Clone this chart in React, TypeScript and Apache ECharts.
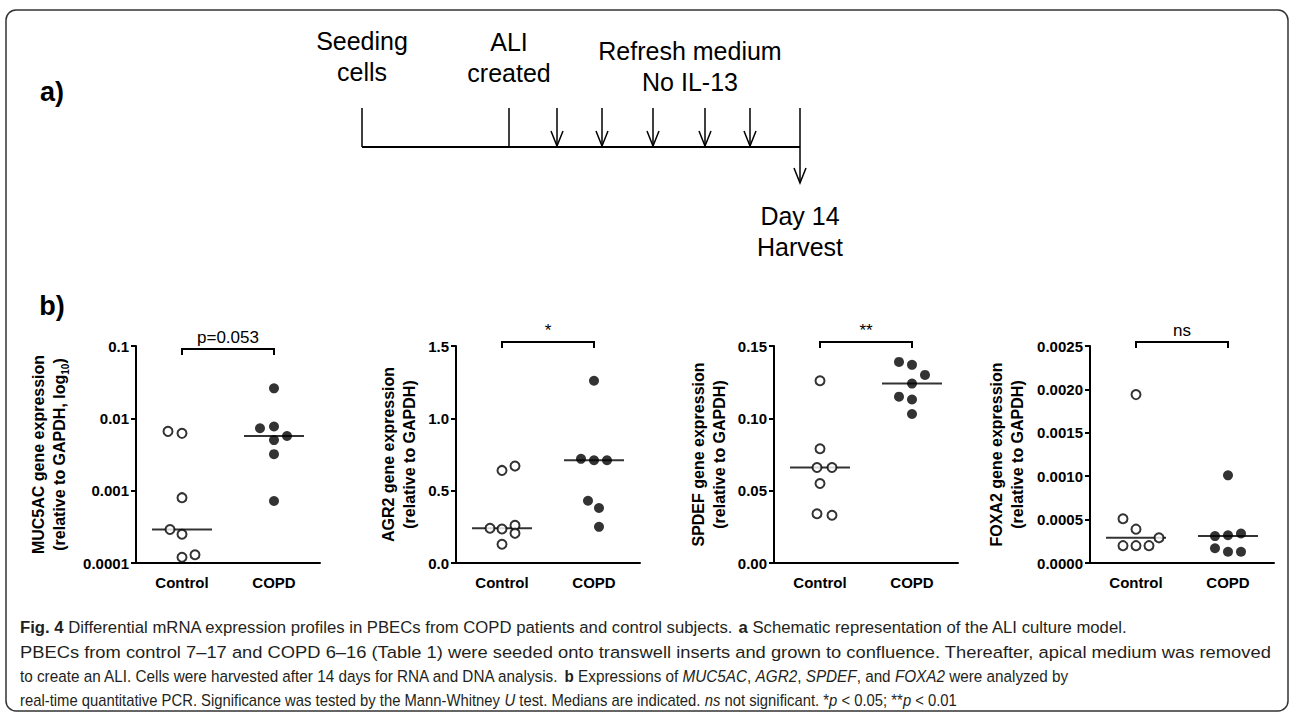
import React, { useEffect, useRef } from 'react';
import * as echarts from 'echarts';

const FONT = '"Liberation Sans", Arial, Helvetica, sans-serif';

// ---- data ----
const groups = ['Control', 'COPD'];

const muc5acControl = [0.0066, 0.0062, 0.0008, 0.00029, 0.00025, 0.00013, 0.00012];
const muc5acCopd = [0.026, 0.0077, 0.0073, 0.0057, 0.005, 0.0032, 0.00072];
const agr2Control = [0.67, 0.64, 0.26, 0.24, 0.235, 0.205, 0.13];
const agr2Copd = [1.26, 0.72, 0.71, 0.71, 0.43, 0.38, 0.25];
const spdefControl = [0.126, 0.079, 0.066, 0.066, 0.055, 0.034, 0.033];
const spdefCopd = [0.139, 0.137, 0.13, 0.124, 0.115, 0.113, 0.103];
const foxa2Control = [0.00194, 0.00051, 0.00039, 0.00029, 0.0002, 0.0002, 0.0002];
const foxa2Copd = [0.00101, 0.00034, 0.00032, 0.00031, 0.00017, 0.00013, 0.00013];

// horizontal scatter spread (px) of each dot around its group centre
const muc5acControlSpread = [-14, 0, 0, -12, 0, 13, 0];
const muc5acCopdSpread = [0, 0, -14, 13, 0, 0, 0];
const agr2ControlSpread = [13, 0, 13, -12, 0, 13, 0];
const agr2CopdSpread = [0, -13, 0, 13, -6, 5, 5];
const spdefControlSpread = [0, 0, -3, 12, 0, -3, 12];
const spdefCopdSpread = [-13, 0, 13, 0, -13, 0, 0];
const foxa2ControlSpread = [0, -13, 0, 23, -13, 0, 13];
const foxa2CopdSpread = [0, 13, 0, -13, -13, 0, 13];

const significanceLabels = ['p=0.053', '*', '**', 'ns'];
const bracketLevels = [0.091, 1.528, 0.1528, 0.002546];

const yNames = [
  'MUC5AC gene expression\n(relative to GAPDH, log{sub|10})',
  'AGR2 gene expression\n(relative to GAPDH)',
  'SPDEF gene expression\n(relative to GAPDH)',
  'FOXA2 gene expression\n(relative to GAPDH)',
];
const yMins = [0.0001, 0, 0, 0];
const yMaxs = [0.1, 1.5, 0.15, 0.0025];
const yIntervals = [null, 0.5, 0.05, 0.0005];
const yDecimals = [null, 1, 2, 4];

const captionLines = [
  '{b|Fig. 4} Differential mRNA expression profiles in PBECs from COPD patients and control subjects. {b|a} Schematic representation of the ALI culture model.',
  'PBECs from control 7–17 and COPD 6–16 (Table 1) were seeded onto transwell inserts and grown to confluence. Thereafter, apical medium was removed',
  'to create an ALI. Cells were harvested after 14 days for RNA and DNA analysis. {b|b} Expressions of {i|MUC5AC}, {i|AGR2}, {i|SPDEF}, and {i|FOXA2} were analyzed by',
  'real-time quantitative PCR. Significance was tested by the Mann-Whitney {i|U} test. Medians are indicated. {i|ns} not significant. *{i|p} < 0.05; **{i|p} < 0.01',
];

const median = (arr: number[]) => {
  const s = [...arr].sort((a, b) => a - b);
  const m = Math.floor(s.length / 2);
  return s.length % 2 ? s[m] : (s[m - 1] + s[m]) / 2;
};

export default function App() {
  const ref = useRef<HTMLDivElement>(null);

  useEffect(() => {
    const chart = echarts.init(ref.current!, null, { renderer: 'svg' });

    const controls = [muc5acControl, agr2Control, spdefControl, foxa2Control];
    const copds = [muc5acCopd, agr2Copd, spdefCopd, foxa2Copd];
    const controlSpreads = [muc5acControlSpread, agr2ControlSpread, spdefControlSpread, foxa2ControlSpread];
    const copdSpreads = [muc5acCopdSpread, agr2CopdSpread, spdefCopdSpread, foxa2CopdSpread];

    const gridLefts = [136, 456, 774, 1090];
    const nameGaps = [66, 36, 44, 62];

    const grids: any[] = [];
    const xAxes: any[] = [];
    const yAxes: any[] = [];
    const series: any[] = [];

    for (let i = 0; i < 4; i++) {
      grids.push({ left: gridLefts[i], top: 346, width: 184, height: 217 });
      xAxes.push({
        type: 'category',
        gridIndex: i,
        data: groups,
        boundaryGap: true,
        axisLine: { onZero: false, lineStyle: { color: '#000', width: 2 } },
        axisTick: { show: false },
        axisLabel: { color: '#000', fontWeight: 'bold', fontSize: 15, fontFamily: FONT, margin: 12, interval: 0 },
        splitLine: { show: false },
      });
      const dec = yDecimals[i];
      const y: any = {
        type: i === 0 ? 'log' : 'value',
        gridIndex: i,
        min: yMins[i],
        max: yMaxs[i],
        axisLine: { show: true, lineStyle: { color: '#000', width: 2 } },
        axisTick: { show: true, length: 5, lineStyle: { color: '#000', width: 2 } },
        axisLabel: {
          color: '#000',
          fontWeight: 'bold',
          fontSize: 15,
          fontFamily: FONT,
          margin: 7,
          formatter: (v: number) => (dec == null ? String(parseFloat(v.toPrecision(6))) : v.toFixed(dec)),
        },
        splitLine: { show: false },
        name: yNames[i],
        nameLocation: 'middle',
        nameRotate: 90,
        nameGap: nameGaps[i],
        nameTextStyle: {
          color: '#000',
          fontWeight: 'bold',
          fontSize: 16,
          fontFamily: FONT,
          lineHeight: 21,
          rich: {
            sub: { fontSize: 10, fontWeight: 'bold', fontFamily: FONT, color: '#000', verticalAlign: 'bottom', lineHeight: 21 },
          },
        },
      };
      if (i === 0) y.logBase = 10;
      else y.interval = yIntervals[i];
      yAxes.push(y);

      series.push({
        type: 'scatter',
        xAxisIndex: i,
        yAxisIndex: i,
        z: 1,
        silent: true,
        symbol: 'rect',
        symbolSize: [60, 2],
        itemStyle: { color: '#000' },
        data: [
          [0, median(controls[i])],
          [1, median(copds[i])],
        ],
      });
      series.push({
        type: 'scatter',
        xAxisIndex: i,
        yAxisIndex: i,
        z: 3,
        silent: true,
        symbol: 'circle',
        symbolSize: 9,
        itemStyle: { color: '#fff', borderColor: '#000', borderWidth: 2 },
        data: controls[i].map((v, j) => ({ value: [0, v], symbolOffset: [controlSpreads[i][j], 0] })),
      });
      series.push({
        type: 'scatter',
        xAxisIndex: i,
        yAxisIndex: i,
        z: 3,
        silent: true,
        symbol: 'circle',
        symbolSize: 10,
        itemStyle: { color: '#000' },
        data: copds[i].map((v, j) => ({ value: [1, v], symbolOffset: [copdSpreads[i][j], 0] })),
      });
      const label = significanceLabels[i];
      series.push({
        type: 'custom',
        xAxisIndex: i,
        yAxisIndex: i,
        clip: false,
        silent: true,
        z: 4,
        encode: { x: [0, 1], y: 2 },
        data: [[0, 1, bracketLevels[i]]],
        renderItem: (params: any, api: any) => {
          const p0 = api.coord([api.value(0), api.value(2)]);
          const p1 = api.coord([api.value(1), api.value(2)]);
          return {
            type: 'group',
            children: [
              {
                type: 'polyline',
                shape: { points: [[p0[0], p0[1] + 6], [p0[0], p0[1]], [p1[0], p1[1]], [p1[0], p1[1] + 6]] },
                style: { stroke: '#000', lineWidth: 2, fill: null },
              },
              {
                type: 'text',
                x: (p0[0] + p1[0]) / 2,
                y: p0[1] - 3,
                style: {
                  text: label,
                  fill: '#000',
                  fontSize: 17,
                  fontFamily: FONT,
                  textAlign: 'center',
                  textVerticalAlign: 'bottom',
                },
              },
            ],
          };
        },
      });
    }

    // caption: each line squeezed horizontally to emulate the condensed caption face
    const capFont = 17;
    const ctx = document.createElement('canvas').getContext('2d')!;
    const measureRich = (t: string) => {
      let w = 0;
      const re = /\{(\w+)\|([^}]*)\}|([^{]+)/g;
      let m: RegExpExecArray | null;
      while ((m = re.exec(t))) {
        if (m[3] != null) {
          ctx.font = `${capFont}px "Liberation Sans"`;
          w += ctx.measureText(m[3]).width;
        } else {
          ctx.font = `${m[1] === 'b' ? 'bold' : 'italic'} ${capFont}px "Liberation Sans"`;
          w += ctx.measureText(m[2]).width;
        }
      }
      return w;
    };
    const captionLeft = 20;
    const captionRight = [1128, 1272, 1068, 957];
    const captionY = [627, 652, 676, 700];

    const txt = (text: string, x: number, y: number, size: number, weight = 'normal') => ({
      type: 'text',
      x,
      y,
      silent: true,
      style: {
        text,
        fill: '#000',
        fontSize: size,
        fontWeight: weight,
        fontFamily: FONT,
        textAlign: 'center',
        textVerticalAlign: 'middle',
      },
    });

    const lineEl = (x1: number, y1: number, x2: number, y2: number, w = 1.5) => ({
      type: 'line',
      silent: true,
      shape: { x1, y1, x2, y2 },
      style: { stroke: '#000', lineWidth: w },
    });
    const arrowHead = (x: number, yTip: number) => ({
      type: 'polyline',
      silent: true,
      shape: { points: [[x - 6, yTip - 15], [x, yTip], [x + 6, yTip - 15]] },
      style: { stroke: '#000', lineWidth: 1.5, fill: null },
    });

    const refreshArrows = [557, 602, 653, 705, 750];
    const graphic: any[] = [
      {
        type: 'rect',
        silent: true,
        shape: { x: 6, y: 10, width: 1282, height: 701, r: 10 },
        style: { stroke: '#333', lineWidth: 1.5, fill: 'none' },
      },
      txt('a)', 52, 92, 27, 'bold'),
      txt('b)', 52, 306, 27, 'bold'),
      txt('Seeding', 362, 41, 25),
      txt('cells', 362, 72, 25),
      txt('ALI', 509, 42, 25),
      txt('created', 509, 73, 25),
      txt('Refresh medium', 690, 51, 25),
      txt('No IL-13', 690, 82, 25),
      txt('Day 14', 800, 216, 25),
      txt('Harvest', 800, 247, 25),
      lineEl(362, 147, 800, 147, 2),
      lineEl(362, 108, 362, 147),
      lineEl(509, 108, 509, 147),
      lineEl(800, 108, 800, 183),
      arrowHead(800, 183),
      ...refreshArrows.flatMap((x) => [lineEl(x, 108, x, 146), arrowHead(x, 146)]),
      ...captionLines.map((t, k) => {
        const w = measureRich(t);
        const sx = w > 0 ? (captionRight[k] - captionLeft) / w : 0.8;
        return {
          type: 'text',
          x: captionLeft,
          y: captionY[k],
          scaleX: sx,
          silent: true,
          style: {
            text: t,
            fill: '#231f20',
            fontSize: capFont,
            fontFamily: FONT,
            textAlign: 'left',
            textVerticalAlign: 'middle',
            rich: {
              b: { fontWeight: 'bold', fontSize: capFont, fontFamily: FONT, fill: '#231f20' },
              i: { fontStyle: 'italic', fontSize: capFont, fontFamily: FONT, fill: '#231f20' },
            },
          },
        };
      }),
    ];

    chart.setOption({
      animation: false,
      backgroundColor: '#fff',
      grid: grids,
      xAxis: xAxes,
      yAxis: yAxes,
      series,
      graphic,
    });

    return () => chart.dispose();
  }, []);

  return (
    <div
      ref={ref}
      style={{ position: 'absolute', left: 0, top: 0, width: 1290, height: 713, background: '#fff' }}
    />
  );
}
